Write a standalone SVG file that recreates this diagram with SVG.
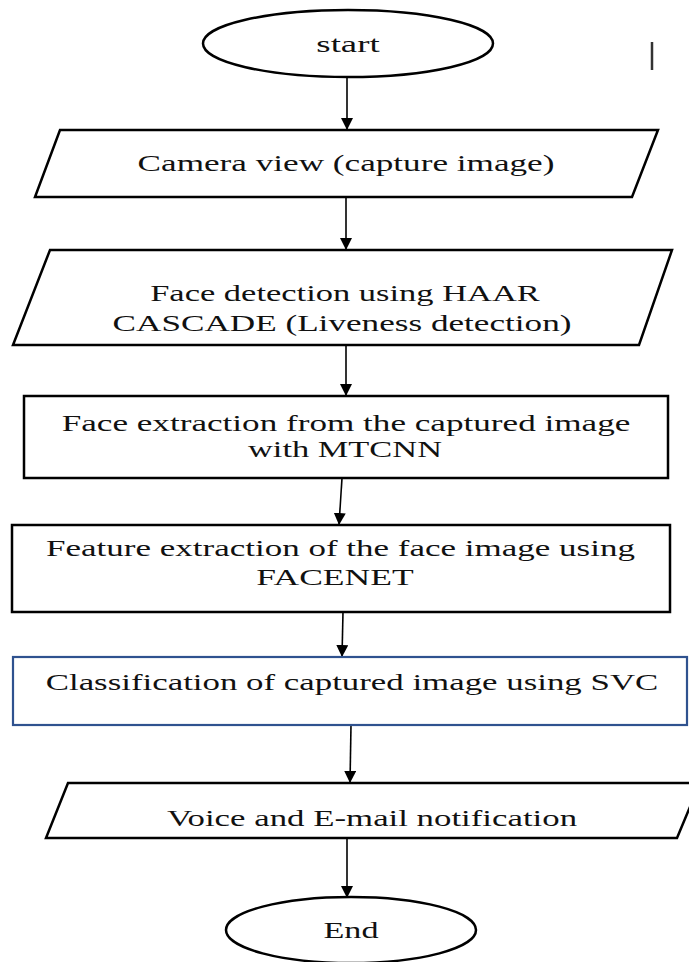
<svg xmlns="http://www.w3.org/2000/svg" width="689" height="962" viewBox="0 0 689 962">
<style>
  .shape { fill: #ffffff; stroke: #000000; stroke-width: 2.5; }
  .blue { fill: #ffffff; stroke: #2f528f; stroke-width: 2.2; }
  .lbl { font-family: "Liberation Serif", "Times New Roman", serif; font-size: 23px; fill: #111111; text-anchor: middle; }
  .conn { stroke: #000000; stroke-width: 1.6; fill: none; marker-end: url(#arrow); }
</style>
<defs>
  <marker id="arrow" markerUnits="userSpaceOnUse" markerWidth="14" markerHeight="14" refX="12" refY="6" orient="auto">
    <path d="M0,0 L12,6 L0,12 Z" fill="#000000"/>
  </marker>
</defs>
<rect x="0" y="0" width="689" height="962" fill="#ffffff"/>
<line x1="652" y1="42" x2="652" y2="70" stroke="#333333" stroke-width="2.5"/>

<g id="connectors">
  <line class="conn" x1="347" y1="77" x2="347" y2="130"/>
  <line class="conn" x1="346" y1="197" x2="346" y2="250"/>
  <line class="conn" x1="346" y1="345" x2="346" y2="396"/>
  <line class="conn" x1="342" y1="478" x2="339" y2="525"/>
  <line class="conn" x1="343" y1="612" x2="342" y2="657"/>
  <line class="conn" x1="351" y1="725" x2="350" y2="783"/>
  <line class="conn" x1="347" y1="838" x2="347" y2="898"/>
</g>

<g id="start">
  <ellipse class="shape" cx="348" cy="43.5" rx="145" ry="33.5"/>
  <text class="lbl" transform="translate(348 52) scale(1.6 1)">start</text>
</g>

<g id="camera">
  <polygon class="shape" points="60,130 658,130 632,197 35,197"/>
  <text class="lbl" transform="translate(346 171) scale(1.529 1)">Camera view (capture image)</text>
</g>

<g id="face-detection">
  <polygon class="shape" points="50,250 672,250 639,345 13,345"/>
  <text class="lbl" transform="translate(345 301) scale(1.5 1)">Face detection using HAAR</text>
  <text class="lbl" transform="translate(342 331) scale(1.529 1)">CASCADE (Liveness detection)</text>
</g>

<g id="face-extraction">
  <rect class="shape" x="24" y="396" width="644" height="82"/>
  <text class="lbl" transform="translate(346 431) scale(1.528 1)">Face extraction from the captured image</text>
  <text class="lbl" transform="translate(345 457) scale(1.496 1)">with MTCNN</text>
</g>

<g id="feature-extraction">
  <rect class="shape" x="12" y="525" width="658" height="87"/>
  <text class="lbl" transform="translate(340.5 556) scale(1.522 1)">Feature extraction of the face image using</text>
  <text class="lbl" transform="translate(335 585) scale(1.546 1)">FACENET</text>
</g>

<g id="classification">
  <rect class="blue" x="13" y="657" width="674" height="68"/>
  <text class="lbl" transform="translate(352 690) scale(1.516 1)">Classification of captured image using SVC</text>
</g>

<g id="notification">
  <polygon class="shape" points="68,783 700,783 677,838 46,838"/>
  <text class="lbl" transform="translate(372 826) scale(1.514 1)">Voice and E-mail notification</text>
</g>

<g id="end">
  <ellipse class="shape" cx="351" cy="930" rx="125" ry="33"/>
  <text class="lbl" transform="translate(351 938) scale(1.484 1)">End</text>
</g>
</svg>
